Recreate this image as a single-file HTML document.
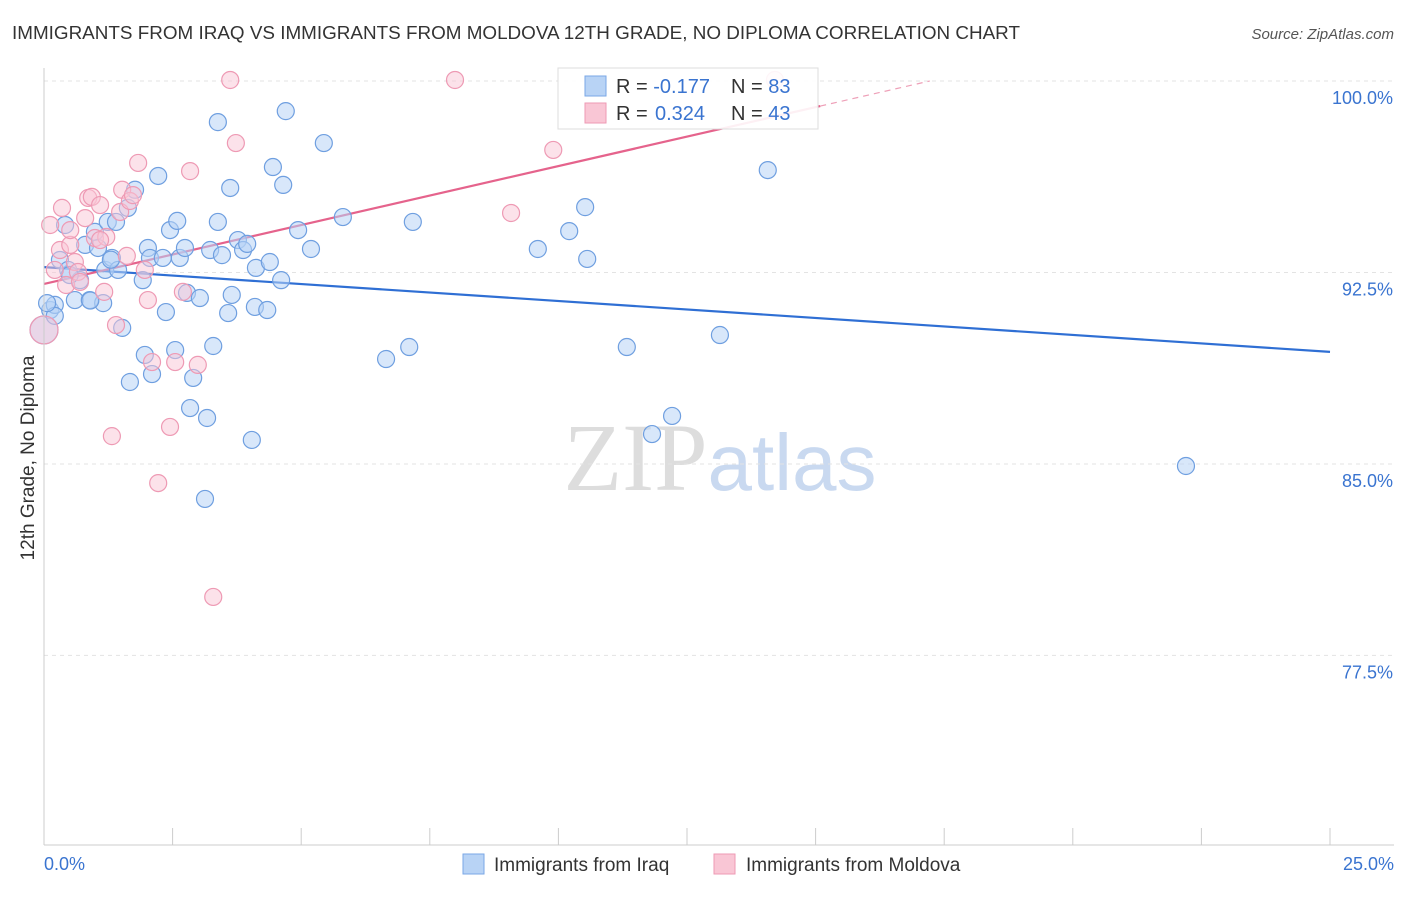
<!DOCTYPE html>
<html><head><meta charset="utf-8"><style>
body{margin:0;background:#fff;font-family:"Liberation Sans",sans-serif;}
svg text{font-family:"Liberation Sans",sans-serif;}
</style></head><body>
<svg id="chart" width="1406" height="892" viewBox="0 0 1406 892" xmlns="http://www.w3.org/2000/svg">
<text x="12" y="39" font-size="18" fill="#333" textLength="1008" lengthAdjust="spacingAndGlyphs">IMMIGRANTS FROM IRAQ VS IMMIGRANTS FROM MOLDOVA 12TH GRADE, NO DIPLOMA CORRELATION CHART</text>
<text x="1394" y="39" font-size="15" fill="#555" text-anchor="end" font-style="italic">Source: ZipAtlas.com</text>
<text x="720" y="490" font-size="96" text-anchor="middle"><tspan fill="#ddd" font-family="Liberation Serif">ZIP</tspan><tspan fill="#c9d9f0" font-size="80">atlas</tspan></text>
<g id="grid"></g><g id="trends"></g><g id="pts"></g><g id="axes"></g>
<g>
<rect x="558" y="68" width="260" height="61" fill="#fff" fill-opacity="0.9" stroke="#ddd"/>
<rect x="585" y="76" width="21" height="20" fill="#b8d3f5" stroke="#7aa7e6"/>
<rect x="585" y="103" width="21" height="20" fill="#f9c6d5" stroke="#ee9ab4"/>
<text x="616" y="93" font-size="20" fill="#333">R = <tspan fill="#3a74d0">-0.177</tspan><tspan x="731">N = </tspan><tspan fill="#3a74d0">83</tspan></text>
<text x="616" y="120" font-size="20" fill="#333">R = <tspan fill="#3a74d0" x="655">0.324</tspan><tspan x="731">N = </tspan><tspan fill="#3a74d0">43</tspan></text>
</g>
<g>
<rect x="463" y="854" width="21" height="20" fill="#b8d3f5" stroke="#7aa7e6"/>
<text x="494" y="871" font-size="19" fill="#333">Immigrants from Iraq</text>
<rect x="714" y="854" width="21" height="20" fill="#f9c6d5" stroke="#ee9ab4"/>
<text x="746" y="871" font-size="19" fill="#333">Immigrants from Moldova</text>
</g>
<text transform="translate(34,458) rotate(-90)" font-size="19" fill="#333" text-anchor="middle">12th Grade, No Diploma</text>
</svg>
<script>
const yTicks=[100,92.5,85,77.5];
const yTickLabels=["100.0%","92.5%","85.0%","77.5%"];
const xTicks=[0,2.5,5,7.5,10,12.5,15,17.5,20,22.5,25];
const iraqX=[0,0.12,0.21,0.31,0.41,0.47,0.6,0.7,0.8,0.89,0.99,1.05,1.15,1.19,1.24,1.32,1.4,1.44,1.52,1.63,1.77,1.92,2.02,2.06,1.96,2.1,1.67,2.22,2.31,2.37,2.45,2.55,2.59,2.64,2.74,2.78,2.84,2.9,3.03,3.17,3.13,3.23,3.29,3.38,3.38,3.46,3.58,3.62,3.65,3.77,3.87,3.95,4.04,4.1,4.12,4.34,4.39,4.45,4.61,4.65,4.7,4.94,5.19,5.44,5.81,6.65,7.1,7.17,9.6,10.21,10.52,10.56,11.33,11.82,12.21,13.14,14.07,22.2,0.21,0.06,0.5,0.9,1.3];
const iraqY=[90.25,91.03,91.23,92.99,94.36,92.6,91.42,92.2,93.58,91.42,94.09,93.46,91.3,92.6,94.48,93.07,94.48,92.6,90.33,95.03,95.74,92.2,93.46,93.07,89.27,88.52,88.21,96.28,93.07,90.95,94.16,89.46,94.52,93.07,93.46,91.7,87.19,88.37,91.5,86.8,83.63,93.38,89.62,98.39,94.48,93.18,90.91,95.81,91.62,93.77,93.38,93.62,85.94,91.15,92.68,91.03,92.91,96.63,92.2,95.93,98.82,94.16,93.42,97.57,94.67,89.11,89.58,94.48,93.42,94.12,95.06,93.03,89.58,86.17,86.88,90.05,96.51,84.92,90.8,91.3,92.4,91.4,93.0];
const moldX=[0,0.12,0.21,0.31,0.35,0.43,0.51,0.6,0.66,0.7,0.8,0.86,0.93,0.99,1.09,1.17,1.21,1.32,1.4,1.48,1.52,1.61,1.67,1.73,1.83,1.96,2.02,2.1,2.22,2.45,2.55,2.7,2.84,2.99,3.29,3.62,3.73,7.99,9.08,9.9,14.21,0.51,1.09];
const moldY=[90.25,94.36,92.6,93.38,95.03,92.01,93.58,92.91,92.52,92.13,94.63,95.42,95.46,93.85,95.14,91.74,93.89,86.09,90.44,94.87,95.74,93.15,95.3,95.53,96.79,92.6,91.42,88.99,84.25,86.45,88.99,91.74,96.47,88.88,79.79,100.04,97.57,100.04,94.83,97.3,100.04,94.16,93.77];
const blueTrend=[92.71,89.39];
const pinkTrend=[92.05,0.4617];
const X0=44,X1=1330,YTOP=81,PXPER=25.53;
const sx=v=>X0+v*(X1-X0)/25;
const sy=v=>YTOP+(100-v)*PXPER;
const NS="http://www.w3.org/2000/svg";
function mk(tag,at,parent){const e=document.createElementNS(NS,tag);for(const k in at)e.setAttribute(k,at[k]);parent.appendChild(e);return e;}
const grid=document.getElementById('grid'),axes=document.getElementById('axes'),pts=document.getElementById('pts'),tr=document.getElementById('trends');
yTicks.forEach((t,i)=>{
 const l=mk('line',{x1:X0,x2:1394,y1:sy(t),y2:sy(t),stroke:'#e3e3e3','stroke-dasharray':'4,4'},grid);
 
 
 const tx=mk('text',{x:1393,y:sy(t)+23,'font-size':18,fill:'#3a74d0','text-anchor':'end'},axes);
 tx.textContent=yTickLabels[i];
 
 
});
const ax=mk('line',{x1:X0,x2:1394,y1:845,y2:845,stroke:'#ccc'},axes);


const ay=mk('line',{x1:X0,x2:X0,y1:68,y2:845,stroke:'#ccc'},axes);


xTicks.forEach(t=>{
 const l=mk('line',{x1:sx(t),x2:sx(t),y1:828,y2:845,stroke:'#ccc'},axes);
 
 
});
[["0.0%",44,"start"],["25.0%",1394,"end"]].forEach(a=>{
 const t=mk('text',{x:a[1],y:870,'font-size':18,fill:'#3a74d0','text-anchor':a[2]},axes);t.textContent=a[0];
 
 
});
iraqX.forEach((x,i)=>{
 const c=mk('circle',{cx:sx(x),cy:sy(iraqY[i]),r:i===0?14:8.5,fill:'#b8d3f5','fill-opacity':0.55,stroke:'#6f9fe0','stroke-width':1.2},pts);
 
 
});
moldX.forEach((x,i)=>{
 const c=mk('circle',{cx:sx(x),cy:sy(moldY[i]),r:i===0?14:8.5,fill:'#f9c6d5','fill-opacity':0.5,stroke:'#ee9ab4','stroke-width':1.2},pts);
 
 
});
const bl=mk('line',{x1:sx(0),y1:sy(blueTrend[0]),x2:sx(25),y2:sy(blueTrend[1]),stroke:'#2f6fd4','stroke-width':2.2},tr);


const pe=15.09, pd=(100-pinkTrend[0])/pinkTrend[1];
const pl=mk('line',{x1:sx(0),y1:sy(pinkTrend[0]),x2:sx(pe),y2:sy(pinkTrend[0]+pinkTrend[1]*pe),stroke:'#e5638c','stroke-width':2.2},tr);


const pdl=mk('line',{x1:sx(pe),y1:sy(pinkTrend[0]+pinkTrend[1]*pe),x2:sx(pd),y2:sy(100),stroke:'#eea0b8','stroke-width':1.2,'stroke-dasharray':'6,5'},tr);


</script>
</body></html>
